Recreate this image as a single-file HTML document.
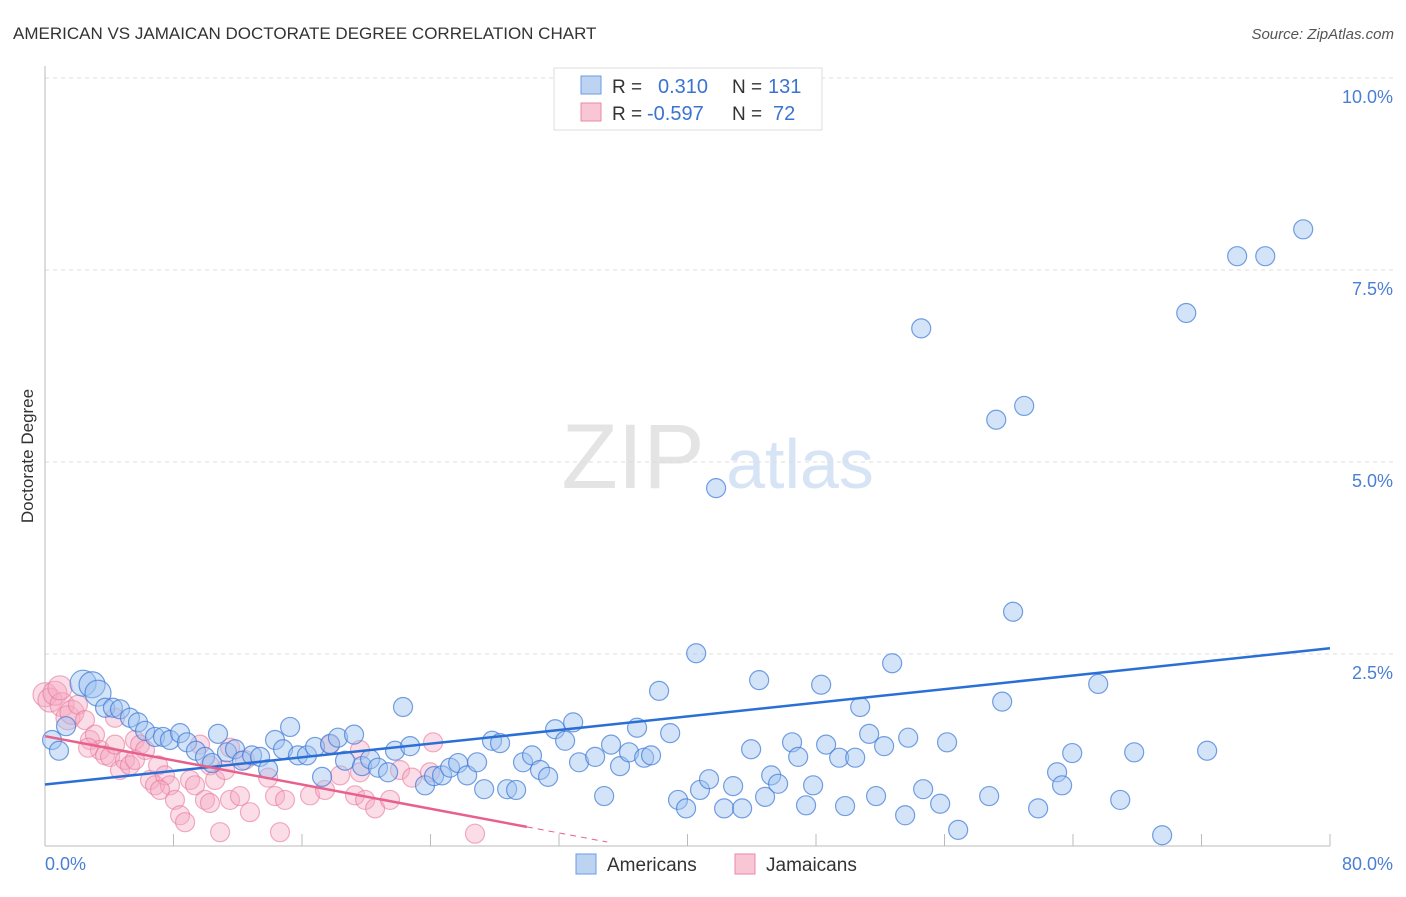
<!DOCTYPE html>
<html><head><meta charset="utf-8"><style>
body{margin:0;background:#fff;font-family:"Liberation Sans",sans-serif;}
svg text{font-family:"Liberation Sans",sans-serif;}
</style></head><body>
<svg id="chart" width="1406" height="892" xmlns="http://www.w3.org/2000/svg">
<text x="13" y="39" font-size="17" fill="#333">AMERICAN VS JAMAICAN DOCTORATE DEGREE CORRELATION CHART</text>
<text x="1394" y="39" font-size="15" fill="#555" text-anchor="end" font-style="italic">Source: ZipAtlas.com</text>
<text transform="translate(33,456) rotate(-90)" font-size="17" fill="#333" text-anchor="middle">Doctorate Degree</text>
<g><text x="633" y="488" font-size="92" fill="#e4e4e4" font-family="Liberation Serif" text-anchor="middle">ZIP</text><text x="800" y="488" font-size="70" fill="#d6e4f5" text-anchor="middle">atlas</text></g>
<g id="grid"></g><g id="pts"></g><g id="lines"></g>
<g>
<rect x="554" y="68" width="268" height="62" fill="#fff" stroke="#ddd"/>
<rect x="581" y="76" width="20" height="18" fill="#bcd4f2" stroke="#6b9be0"/>
<rect x="581" y="103" width="20" height="18" fill="#f8c6d4" stroke="#e88aa8"/>
<text x="612" y="93" font-size="19" fill="#333">R =</text><text x="658" y="93" font-size="20" fill="#3a74d0">0.310</text>
<text x="732" y="93" font-size="19" fill="#333">N =</text><text x="768" y="93" font-size="20" fill="#3a74d0">131</text>
<text x="612" y="120" font-size="19" fill="#333">R =</text><text x="647" y="120" font-size="20" fill="#3a74d0">-0.597</text>
<text x="732" y="120" font-size="19" fill="#333">N =</text><text x="773" y="120" font-size="20" fill="#3a74d0">72</text>
</g>
<g>
<rect x="576" y="854" width="20" height="20" fill="#bcd4f2" stroke="#6b9be0"/>
<text x="607" y="871" font-size="19" fill="#333">Americans</text>
<rect x="735" y="854" width="20" height="20" fill="#f8c6d4" stroke="#e88aa8"/>
<text x="766" y="871" font-size="19" fill="#333">Jamaicans</text>
</g>
</svg>
<script>
const yTicks=[2.5,5,7.5,10];
const yTickLabels=["2.5%","5.0%","7.5%","10.0%"];
const xTickValues=[0,8,16,24,32,40,48,56,64,72,80];
const xEndLabels=["0.0%","80.0%"];
const amerX=[0.44,0.87,1.31,2.37,2.93,3.30,3.74,4.23,4.67,5.29,5.79,6.23,6.85,7.35,7.78,8.41,8.84,9.40,9.96,10.40,10.77,11.33,11.83,12.27,12.89,13.39,13.89,14.32,14.82,15.26,15.75,16.31,16.81,17.25,17.75,18.24,18.68,19.24,19.74,20.24,20.73,21.36,22.29,21.79,22.73,23.66,24.22,24.72,25.22,25.72,26.28,26.90,27.34,27.83,28.33,28.77,29.33,29.76,30.32,30.82,31.32,31.76,32.38,32.88,33.25,34.25,34.81,35.24,35.80,36.36,36.86,37.30,37.73,38.23,38.92,39.41,39.91,40.54,40.78,41.34,41.78,42.28,42.84,43.40,43.96,44.46,44.83,45.21,45.64,46.51,46.89,47.38,47.82,48.32,48.63,49.44,49.81,50.44,50.75,51.31,51.74,52.24,52.74,53.55,53.74,54.55,54.67,55.73,56.16,56.85,58.78,59.22,59.59,60.27,60.96,61.83,63.01,63.32,63.95,65.57,66.94,67.81,69.55,71.05,72.35,74.22,75.97,78.33];
const amerY=[1.38,1.24,1.56,2.12,2.10,1.99,1.80,1.80,1.78,1.67,1.61,1.50,1.42,1.42,1.38,1.47,1.35,1.24,1.16,1.08,1.46,1.22,1.26,1.11,1.18,1.16,1.00,1.38,1.26,1.55,1.18,1.18,1.29,0.90,1.33,1.41,1.11,1.45,1.04,1.13,1.02,0.96,1.81,1.24,1.30,0.79,0.91,0.92,1.02,1.08,0.92,1.09,0.74,1.37,1.34,0.74,0.73,1.09,1.18,0.99,0.90,1.52,1.37,1.61,1.09,1.16,0.65,1.32,1.04,1.22,1.54,1.15,1.18,2.02,1.47,0.60,0.49,2.51,0.73,0.87,4.66,0.49,0.78,0.49,1.26,2.16,0.64,0.92,0.81,1.35,1.16,0.53,0.79,2.10,1.32,1.15,0.52,1.15,1.81,1.46,0.65,1.30,2.38,0.40,1.41,6.74,0.74,0.55,1.35,0.21,0.65,5.55,1.88,3.05,5.73,0.49,0.96,0.79,1.21,2.11,0.60,1.22,0.14,6.94,1.24,7.68,7.68,8.03];
const jamX=[0,0.31,0.62,1.06,1.43,1.68,2.05,2.49,2.80,3.11,3.42,3.74,4.05,4.36,4.67,4.98,5.29,5.60,5.92,6.23,6.54,6.85,7.04,7.47,7.78,8.09,8.41,8.72,9.03,9.34,9.65,9.96,10.27,10.59,10.90,11.21,11.52,12.14,12.45,12.76,14.32,14.63,14.94,16.50,17.43,17.75,19.30,19.61,19.93,20.55,21.48,22.10,22.85,23.97,24.16,26.77,0.93,4.36,2.68,5.60,7.16,11.52,13.89,18.37,19.61,10.27];
const jamY=[1.97,1.90,1.99,1.84,1.67,1.74,1.84,1.64,1.38,1.45,1.25,1.18,1.16,1.32,0.99,1.12,1.05,1.38,1.32,1.25,0.86,0.79,1.05,0.92,0.79,0.60,0.40,0.31,0.86,0.79,1.32,0.60,1.05,0.86,0.18,0.99,0.60,0.65,1.12,0.44,0.65,0.18,0.60,0.66,0.73,1.32,0.66,1.25,0.60,0.49,0.60,0.99,0.89,0.96,1.35,0.16,2.06,1.67,1.28,1.12,0.73,1.28,0.89,0.92,0.96,0.56];
const NS="http://www.w3.org/2000/svg";
const X0=45,X1=1330,Y0=846,Y10=78;
const sx=v=>X0+(X1-X0)*v/80, sy=v=>Y0-(Y0-Y10)*v/10;
function mk(t,a,p){const e=document.createElementNS(NS,t);for(const k in a)e.setAttribute(k,a[k]);p.appendChild(e);return e;}
const grid=document.getElementById('grid');
yTicks.forEach((t,i)=>{
 const l=mk('line',{x1:X0,x2:1393,y1:sy(t),y2:sy(t),stroke:'#ddd','stroke-dasharray':'4,4'},grid);
 
 
 const tx=mk('text',{x:1393,y:sy(t)+25,'font-size':18,fill:'#4a7fd4','text-anchor':'end'},grid);
 tx.textContent=yTickLabels[i];
 
 
});
const ax=mk('line',{x1:X0,x2:X1,y1:Y0,y2:Y0,stroke:'#bbb'},grid);


const ay=mk('line',{x1:X0,x2:X0,y1:66,y2:Y0,stroke:'#bbb'},grid);


xTickValues.forEach(v=>{
 const t=mk('line',{x1:sx(v),x2:sx(v),y1:Y0,y2:Y0-12,stroke:'#bbb'},grid);
 
 
});
[[0,'start',X0],[1,'end',1393]].forEach(([i,a,x])=>{
 const t=mk('text',{x:x,y:870,'font-size':18,fill:'#4a7fd4','text-anchor':a},grid);
 t.textContent=xEndLabels[i];
 
 
});
const pts=document.getElementById('pts');
jamX.forEach((x,i)=>{
 const c=mk('circle',{cx:sx(x),cy:sy(jamY[i]),r:x<2?12:9.5,fill:'rgba(246,170,195,0.4)',stroke:'rgba(232,120,155,0.6)','stroke-width':1.2},pts);
 
 
});
amerX.forEach((x,i)=>{
 const c=mk('circle',{cx:sx(x),cy:sy(amerY[i]),r:(i>=3&&i<=5)?13:9.5,fill:'rgba(160,195,240,0.45)',stroke:'rgba(60,120,215,0.7)','stroke-width':1.2},pts);
 
 
});
function reg(xs,ys){const n=xs.length;let mx=0,my=0;xs.forEach((x,i)=>{mx+=x;my+=ys[i];});mx/=n;my/=n;let sxy=0,sxx=0;xs.forEach((x,i)=>{sxy+=(x-mx)*(ys[i]-my);sxx+=(x-mx)**2;});const b=sxy/sxx;return [my-b*mx,b];}
const lines=document.getElementById('lines');
const [ab,am]=reg(amerX,amerY);
const bl=mk('line',{x1:sx(0),y1:sy(ab),x2:sx(80),y2:sy(ab+am*80),stroke:'#2a6fd6','stroke-width':2.5},lines);


const [jb,jm]=reg(jamX,jamY);
const pl=mk('line',{x1:sx(0),y1:sy(jb),x2:sx(30),y2:sy(jb+jm*30),stroke:'#e8608c','stroke-width':2.5},lines);


const pd=mk('line',{x1:sx(30),y1:sy(jb+jm*30),x2:sx(35),y2:sy(jb+jm*35),stroke:'#e8608c','stroke-width':1,'stroke-dasharray':'6,5'},lines);


</script>
</body></html>
